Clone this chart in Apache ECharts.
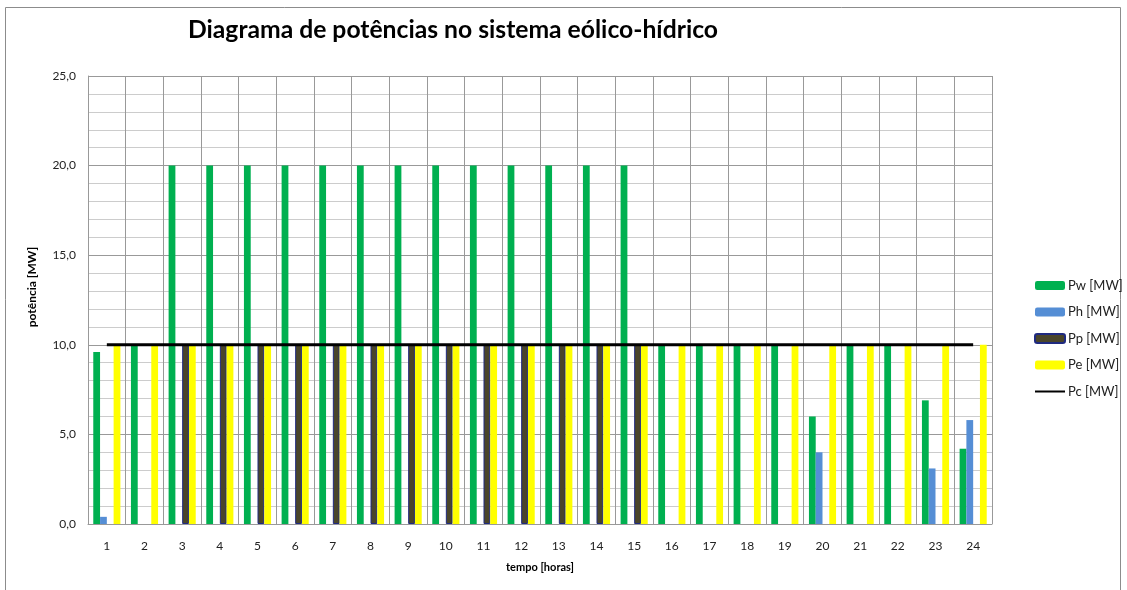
<!DOCTYPE html>
<html>
<head>
<meta charset="utf-8">
<title>Diagrama de potências no sistema eólico-hídrico</title>
<script src="https://cdn.jsdelivr.net/npm/echarts@6/dist/echarts.min.js"></script>
<style>
  html, body { margin: 0; padding: 0; background: #fff; }
  #chart { width: 1127px; height: 590px; }
</style>
</head>
<body>
<div id="chart"></div>
<script>
// Hours of the day
const horas = ['1','2','3','4','5','6','7','8','9','10','11','12','13','14','15','16','17','18','19','20','21','22','23','24'];

// Wind power [MW]
const pw = [9.6, 10, 20, 20, 20, 20, 20, 20, 20, 20, 20, 20, 20, 20, 20, 10, 10, 10, 10, 6.0, 10, 10, 6.9, 4.2];
// Hydro power [MW]
const ph = [0.4, 0, 0, 0, 0, 0, 0, 0, 0, 0, 0, 0, 0, 0, 0, 0, 0, 0, 0, 4.0, 0, 0, 3.1, 5.8];
// Pumping power [MW]
const pp = [0, 0, 10, 10, 10, 10, 10, 10, 10, 10, 10, 10, 10, 10, 10, 0, 0, 0, 0, 0, 0, 0, 0, 0];
// Power delivered [MW]
const pe = [10, 10, 10, 10, 10, 10, 10, 10, 10, 10, 10, 10, 10, 10, 10, 10, 10, 10, 10, 10, 10, 10, 10, 10];
// Consumption [MW]
const pc = [10, 10, 10, 10, 10, 10, 10, 10, 10, 10, 10, 10, 10, 10, 10, 10, 10, 10, 10, 10, 10, 10, 10, 10];

const FONT = 'Lato, "Open Sans", sans-serif';

// Hours without a value get no bar at all (avoids a bordered sliver on the axis)
const noZero = arr => arr.map(v => (v === 0 ? '-' : v));

const chart = echarts.init(document.getElementById('chart'), null, { renderer: 'canvas' });

chart.setOption({
  backgroundColor: '#ffffff',
  animation: false,
  textStyle: { fontFamily: FONT },
  title: {
    text: 'Diagrama de potências no sistema eólico-hídrico',
    left: 448,
    top: 13,
    textAlign: 'center',
    textStyle: { fontFamily: FONT, fontWeight: 'bold', fontSize: 24.7, color: '#000' }
  },
  graphic: [{
    type: 'rect',
    shape: { x: 5.5, y: 7.5, width: 1115, height: 600 },
    style: { fill: 'none', stroke: '#8c8c8c', lineWidth: 1 },
    silent: true
  }],
  legend: {
    orient: 'vertical',
    left: 1034,
    top: 279,
    padding: 0,
    itemWidth: 30,
    itemHeight: 9,
    itemGap: 13.5,
    textStyle: { fontFamily: FONT, fontSize: 13, color: '#222', padding: [0, 0, 0, -2] },
    data: [
      'Pw [MW]', 'Ph [MW]', 'Pp [MW]', 'Pe [MW]',
      { name: 'Pc [MW]', itemStyle: { color: 'rgba(0,0,0,0)', borderWidth: 0 } }
    ]
  },
  grid: { left: 88, right: 135, top: 76, bottom: 66, containLabel: false },
  xAxis: {
    type: 'category',
    data: horas,
    boundaryGap: true,
    name: 'tempo [horas]',
    nameLocation: 'middle',
    nameGap: 38,
    nameTextStyle: { fontFamily: FONT, fontWeight: 'bold', fontSize: 11, color: '#000' },
    axisLine: { lineStyle: { color: '#999', width: 1 } },
    axisTick: { show: false },
    axisLabel: { fontFamily: FONT, fontSize: 12, color: '#222', margin: 16, interval: 0 },
    splitLine: { show: true, interval: 0, lineStyle: { color: '#999', width: 1 } }
  },
  yAxis: {
    type: 'value',
    min: 0,
    max: 25,
    interval: 5,
    name: 'potência [MW]',
    nameLocation: 'middle',
    nameGap: 50,
    nameTextStyle: { fontFamily: FONT, fontWeight: 'bold', fontSize: 12, color: '#000', padding: [0, 0, 0, 26] },
    axisLine: { show: true, lineStyle: { color: '#999', width: 1 } },
    axisTick: { show: false },
    axisLabel: {
      fontFamily: FONT, fontSize: 12, color: '#222', margin: 12,
      formatter: v => v.toFixed(1).replace('.', ',')
    },
    splitLine: { show: true, lineStyle: { color: '#999', width: 1 } },
    minorTick: { show: false, splitNumber: 5 },
    minorSplitLine: { show: true, lineStyle: { color: '#cccccc', width: 1 } }
  },
  series: [
    {
      name: 'Pw [MW]', type: 'bar', data: pw,
      barGap: '0%', barCategoryGap: '28%',
      itemStyle: { color: '#00b050' }
    },
    {
      name: 'Ph [MW]', type: 'bar', data: noZero(ph),
      itemStyle: { color: '#558ed5' }
    },
    {
      name: 'Pp [MW]', type: 'bar', data: noZero(pp),
      itemStyle: { color: '#4a452a', borderColor: '#1f2a80', borderWidth: 1 }
    },
    {
      name: 'Pe [MW]', type: 'bar', data: pe,
      itemStyle: { color: '#ffff00' }
    },
    {
      name: 'Pc [MW]', type: 'line', data: pc,
      symbol: 'none', showSymbol: false,
      lineStyle: { color: '#000', width: 3 },
      itemStyle: { color: '#000' },
      z: 5
    }
  ]
});
</script>
</body>
</html>
